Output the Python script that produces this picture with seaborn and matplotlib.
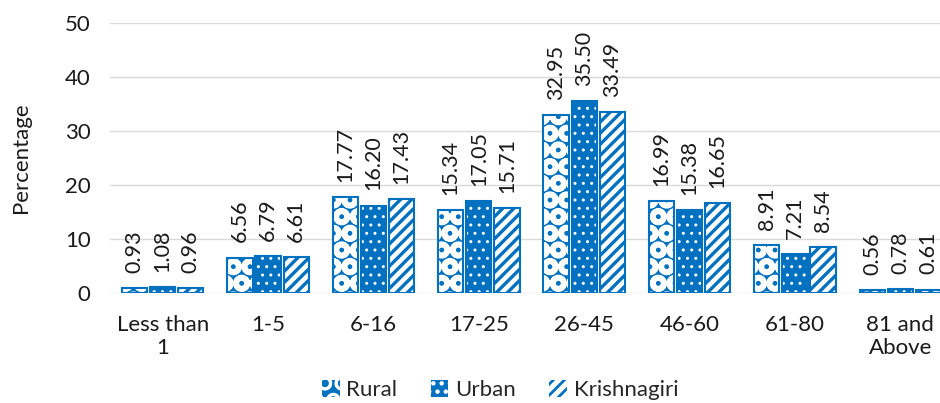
import matplotlib
matplotlib.use("Agg")
import matplotlib.pyplot as plt
from matplotlib.patches import Rectangle, Patch
import seaborn as sns
import pandas as pd

categories = ["Less than\n1", "1-5", "6-16", "17-25", "26-45", "46-60", "61-80", "81 and\nAbove"]
series = ["Rural", "Urban", "Krishnagiri"]
rural = [0.93, 6.56, 17.77, 15.34, 32.95, 16.99, 8.91, 0.56]
urban = [1.08, 6.79, 16.20, 17.05, 35.50, 15.38, 7.21, 0.78]
krishnagiri = [0.96, 6.61, 17.43, 15.71, 33.49, 16.65, 8.54, 0.61]
y_ticks = [0, 10, 20, 30, 40, 50]

df = pd.DataFrame({
    "Age": categories * 3,
    "Series": [s for s in series for _ in categories],
    "Value": rural + urban + krishnagiri,
})

sns.set_theme(style="white")
plt.rcParams["font.family"] = ["Lato", "DejaVu Sans"]
plt.rcParams["hatch.linewidth"] = 2.0

BLUE = "#0070C0"
TEXT = "#1a1a1a"
# face colour, hatch colour, hatch pattern, hatch line width per series
styles = {
    "Rural": (BLUE, "white", "O", 4.0),
    "Urban": (BLUE, "white", "..", 1.0),
    "Krishnagiri": ("white", BLUE, "///", 2.4),
}


def style_patch(p, name):
    face, hatch_col, hatch, hlw = styles[name]
    p.set_facecolor(face)
    p.set_edgecolor(hatch_col)
    p.set_hatch(hatch)
    p.set_linewidth(0)
    if hasattr(p, "set_hatch_linewidth"):
        p.set_hatch_linewidth(hlw)


fig = plt.figure(figsize=(9.4, 4.03), dpi=100)
ax = fig.add_axes([110 / 940, 1 - 293 / 403, 843 / 940, 270 / 403])

sns.barplot(data=df, x="Age", y="Value", hue="Series", hue_order=series,
            order=categories, ax=ax, width=0.8, gap=0.1, legend=False,
            linewidth=0)

for container, name in zip(ax.containers, series):
    for bar in container:
        style_patch(bar, name)
        ax.add_patch(Rectangle(bar.get_xy(), bar.get_width(), bar.get_height(),
                               fill=False, edgecolor=BLUE, linewidth=1.5,
                               zorder=bar.get_zorder() + 0.1))
    ax.bar_label(container, labels=[f"{v:.2f}" for v in container.datavalues],
                 rotation=90, padding=11, fontsize=15.5, color=TEXT)

ax.set_ylim(0, 50)
ax.set_yticks(y_ticks)
ax.yaxis.grid(True, color="#D9D9D9", linewidth=1)
ax.set_axisbelow(True)
for s in ax.spines.values():
    s.set_visible(False)
ax.tick_params(axis="both", length=0, labelsize=16, colors=TEXT)
ax.tick_params(axis="y", pad=14)
ax.tick_params(axis="x", pad=16)
ax.set_xlabel("")
ax.set_ylabel("Percentage", fontsize=16, color=TEXT, labelpad=24)

handles = []
for n in series:
    h = Patch(label=n)
    style_patch(h, n)
    handles.append(h)
fig.legend(handles, series, loc="center", bbox_to_anchor=(0.532, 0.032), ncol=3,
           frameon=False, fontsize=16, handlelength=0.8, handleheight=0.8,
           handletextpad=0.3, columnspacing=1.5)

fig.savefig("out.png", dpi=100)
